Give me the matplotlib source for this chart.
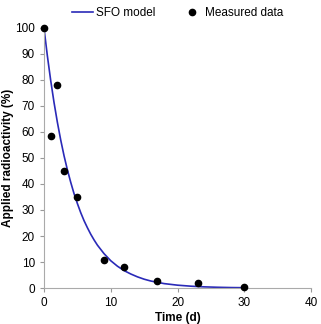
import matplotlib
matplotlib.use("Agg")
import matplotlib.pyplot as plt

plt.rcParams['font.family'] = ['Liberation Sans', 'DejaVu Sans']

# measured data
t_meas = [0, 1, 2, 3, 5, 9, 12, 17, 23, 30]
y_meas = [100, 58.6, 78.2, 45.0, 35.1, 10.6, 8.0, 2.7, 2.0, 0.3]

# SFO model curve
t_model = [0, 0.5, 1, 1.5, 2, 2.5, 3, 3.5, 4, 4.5, 5, 5.5, 6, 6.5, 7, 7.5, 8, 9,
           10, 11, 12, 13, 14, 15, 16, 17, 18, 20, 22, 24, 26, 28, 30]
y_model = [100, 89.4, 79.9, 71.4, 63.8, 57.0, 50.9, 45.5, 40.7, 36.3, 32.5, 29.0,
           25.9, 23.2, 20.7, 18.5, 16.5, 13.2, 10.5, 8.4, 6.7, 5.4, 4.3, 3.4,
           2.7, 2.2, 1.7, 1.1, 0.71, 0.45, 0.29, 0.18, 0.12]

fig = plt.figure(figsize=(3.21, 3.24), dpi=100)
ax = fig.add_axes([0.137, 0.111, 0.832, 0.803])

ax.plot(t_model, y_model, color='#2a2ab8', linewidth=1.2, label='SFO model')
ax.plot(t_meas, y_meas, 'o', color='black', markersize=4.5, label='Measured data',
        clip_on=False, zorder=3)

ax.set_xlim(0, 40)
ax.set_ylim(0, 100)
ax.set_xticks(range(0, 41, 10))
ax.set_yticks(range(0, 101, 10))
ax.tick_params(labelsize=8.5, length=3, color='#999999', width=0.8)
for s in ['top', 'right']:
    ax.spines[s].set_visible(False)
for s in ['left', 'bottom']:
    ax.spines[s].set_color('#aaaaaa')
    ax.spines[s].set_linewidth(0.8)

ax.set_xlabel('Time (d)', fontsize=8.5, fontweight='bold', labelpad=2)
ax.set_ylabel('Applied radioactivity (%)', fontsize=8.5, fontweight='bold', labelpad=0.5)

ax.legend(loc='lower center', bbox_to_anchor=(0.5, 1.005), ncol=2, frameon=False,
          fontsize=8.5, handlelength=1.8, handletextpad=0.2, columnspacing=2.2,
          borderaxespad=0.2)

fig.savefig('out.png', dpi=100)
